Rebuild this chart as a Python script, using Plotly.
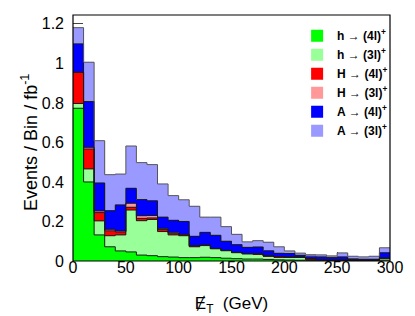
import numpy as np
import plotly.graph_objects as go

# Bin edges of the missing-ET histogram (GeV)
bin_edges = list(range(0, 310, 10))

# Per-bin contributions (events / bin / fb^-1), stacked bottom -> top
h_4l = [0.773, 0.400, 0.132, 0.072, 0.051, 0.046, 0.030, 0.027, 0.022, 0.020,
        0.017, 0.017, 0.019, 0.017, 0.014, 0.012, 0.010, 0.010, 0.008, 0.006,
        0.005, 0.004, 0.003, 0.003, 0.003, 0.002, 0.002, 0.002, 0.002, 0.004]
h_3l = [0.024, 0.066, 0.071, 0.056, 0.081, 0.212, 0.174, 0.183, 0.127, 0.112,
        0.111, 0.055, 0.059, 0.045, 0.038, 0.030, 0.026, 0.025, 0.017, 0.014,
        0.014, 0.015, 0.007, 0.003, 0.002, 0.003, 0.002, 0.002, 0.002, 0.008]
H_4l = [0.158, 0.101, 0.042, 0.025, 0.015, 0.014, 0.012, 0.008, 0.010, 0.008,
        0.005, 0.004, 0.002, 0.001, 0.001, 0.001, 0.001, 0.001, 0.001, 0.001,
        0.001, 0.001, 0.001, 0.001, 0.001, 0.001, 0.001, 0.001, 0.001, 0.002]
H_3l = [0.000, 0.008, 0.008, 0.007, 0.005, 0.020, 0.013, 0.012, 0.006, 0.005,
        0.002, 0.002, 0.001, 0.001, 0.001, 0.001, 0.001, 0.001, 0.001, 0.001,
        0.000, 0.000, 0.000, 0.000, 0.000, 0.000, 0.000, 0.000, 0.000, 0.002]
A_4l = [0.144, 0.232, 0.142, 0.095, 0.132, 0.076, 0.082, 0.075, 0.057, 0.061,
        0.065, 0.047, 0.064, 0.066, 0.046, 0.039, 0.031, 0.034, 0.025, 0.017,
        0.018, 0.009, 0.013, 0.014, 0.012, 0.015, 0.006, 0.004, 0.004, 0.026]
A_3l = [0.082, 0.199, 0.214, 0.182, 0.156, 0.214, 0.187, 0.183, 0.168, 0.125,
        0.110, 0.152, 0.077, 0.092, 0.074, 0.052, 0.028, 0.032, 0.043, 0.033,
        0.013, 0.011, 0.008, 0.010, 0.008, 0.020, 0.013, 0.012, 0.015, 0.025]

series_names = ["h → (4l)", "h → (3l)", "H → (4l)", "H → (3l)", "A → (4l)", "A → (3l)"]
series_values = [h_4l, h_3l, H_4l, H_3l, A_4l, A_3l]
series_colors = ["#00ff00", "#99ff99", "#ff0000", "#ff9999", "#0000ff", "#9999ff"]
line_colors = ["#1a1a1a", "#1a1a1a", "#1a1a1a", "#1a1a1a", "#1a1a1a", "#555555"]

x_ticks = [0, 50, 100, 150, 200, 250, 300]
y_ticks = [0, 0.2, 0.4, 0.6, 0.8, 1.0, 1.2]
y_tick_labels = ["0", "0.2", "0.4", "0.6", "0.8", "1", "1.2"]

FONT = "Liberation Sans, Arial, Helvetica, sans-serif"

edges = np.array(bin_edges, dtype=float)
centers = (edges[:-1] + edges[1:]) / 2
widths = np.diff(edges)

fig = go.Figure()
# filled stacked histogram (bars, no gaps)
for name, vals, col in zip(series_names, series_values, series_colors):
    fig.add_trace(go.Bar(
        x=centers, y=vals, width=widths,
        marker=dict(color=col, line=dict(width=0)),
        name="<b>" + name + "<sup>+</sup></b>",
        hoverinfo="skip",
    ))
# step outlines on top of each stacked component
cum = np.zeros(len(h_4l))
for vals, lcol in zip(series_values, line_colors):
    cum = cum + np.array(vals)
    fig.add_trace(go.Scatter(
        x=edges, y=list(cum) + [cum[-1]], mode="lines",
        line=dict(shape="hv", color=lcol, width=1),
        showlegend=False, hoverinfo="skip",
    ))

# page body has an 8px margin: figure is 407x308 so it fits the 415x316 window
fig.update_layout(
    width=407, height=308,
    margin=dict(l=65, r=25, t=7, b=55, autoexpand=False),
    paper_bgcolor="white", plot_bgcolor="white",
    font=dict(family=FONT, color="black"),
    barmode="stack", bargap=0,
    showlegend=True,
    legend=dict(
        x=0.707, y=0.975, xanchor="left", yanchor="top",
        bgcolor="rgba(0,0,0,0)", borderwidth=0,
        font=dict(size=12, family=FONT),
        traceorder="normal",
        tracegroupgap=0,
        itemwidth=30,
    ),
    xaxis=dict(
        range=[0, 300], tickvals=x_ticks, ticks="inside", ticklen=9,
        tickcolor="#444", showgrid=False, zeroline=False,
        showline=False, layer="below traces", automargin=False,
        ticklabelstandoff=-5,
        tickfont=dict(size=16, family=FONT),
        title=dict(text="Ɇ<sub>T</sub>  (GeV)", font=dict(size=17, family=FONT), standoff=22),
    ),
    yaxis=dict(
        range=[0, 1.245], tickvals=y_ticks, ticktext=y_tick_labels,
        ticks="inside", ticklen=10, tickcolor="#444", ticklabelstandoff=8,
        showgrid=False, zeroline=False, showline=False, layer="below traces",
        automargin=False,
        tickfont=dict(size=16, family=FONT),
    ),
    annotations=[dict(
        text="Events / Bin / fb<sup>-1</sup>", textangle=-90,
        xref="paper", yref="paper", x=0, y=0.48, xanchor="center", yanchor="middle",
        xshift=-43, showarrow=False, font=dict(size=18, family=FONT),
    )],
    shapes=[dict(type="rect", xref="paper", yref="paper", x0=0, x1=1, y0=0, y1=1,
                 line=dict(color="black", width=1.2), fillcolor="rgba(0,0,0,0)", layer="above")],
)

fig.write_html("out.html")
